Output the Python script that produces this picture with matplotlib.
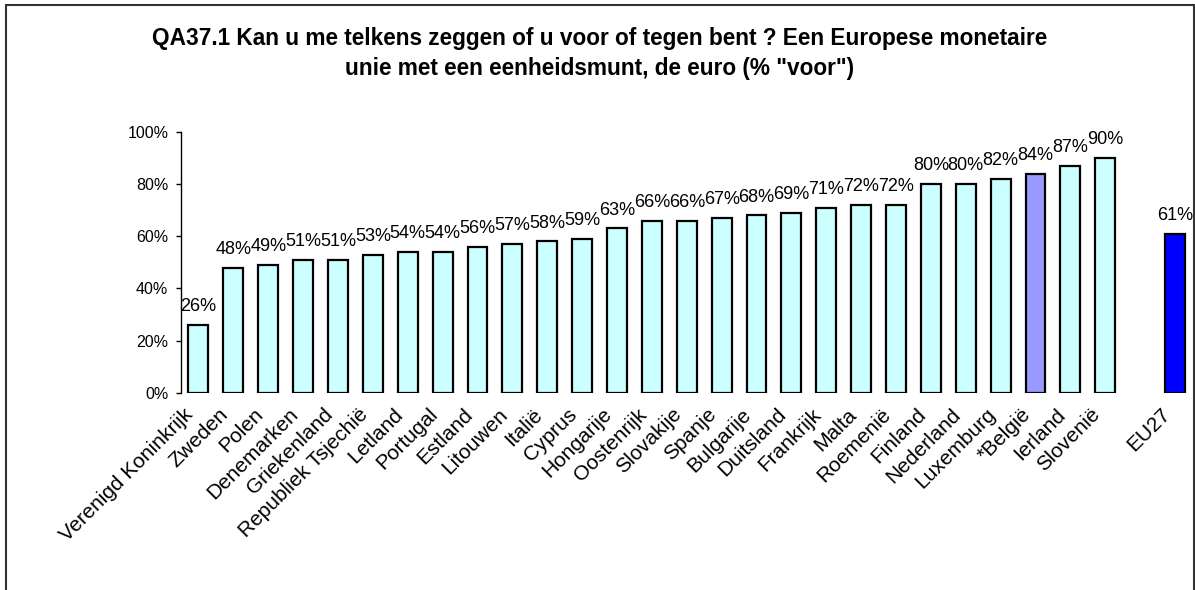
import matplotlib
matplotlib.use("Agg")
from matplotlib import pyplot as plt
from matplotlib.patches import Rectangle
from matplotlib.transforms import ScaledTranslation

plt.rcParams['font.family'] = ['Liberation Sans', 'DejaVu Sans']

countries = ["Verenigd Koninkrijk", "Zweden", "Polen", "Denemarken", "Griekenland",
             "Republiek Tsjechië", "Letland", "Portugal", "Estland", "Litouwen",
             "Italië", "Cyprus", "Hongarije", "Oostenrijk", "Slovakije", "Spanje",
             "Bulgarije", "Duitsland", "Frankrijk", "Malta", "Roemenië", "Finland",
             "Nederland", "Luxemburg", "*België", "Ierland", "Slovenië"]
country_values = [26, 48, 49, 51, 51, 53, 54, 54, 56, 57, 58, 59, 63, 66, 66, 67,
                  68, 69, 71, 72, 72, 80, 80, 82, 84, 87, 90]
eu_label = "EU27"
eu_value = 61
highlight = "*België"

title = ('QA37.1 Kan u me telkens zeggen of u voor of tegen bent ? Een Europese monetaire\n'
         'unie met een eenheidsmunt, de euro (% "voor")')

W, H = 1195, 590
fig = plt.figure(figsize=(W / 100, H / 100), dpi=100)
fig.patch.set_facecolor("white")

# axes placed in pixel terms: y axis at x=181, 0% at y=392.7, 100% at y=132
ax = fig.add_axes([181 / W, (H - 392.7) / H, 1011.5 / W, 260.7 / H])

# one empty slot between countries and EU27
xpos = list(range(len(countries))) + [len(countries) + 1]
labels = countries + [eu_label]
values = country_values + [eu_value]
colors = []
for c in labels:
    if c == eu_label:
        colors.append("#0000FF")
    elif c == highlight:
        colors.append("#9999FF")
    else:
        colors.append("#CCFFFF")

ax.bar(xpos, values, width=0.57, color=colors, edgecolor="black", linewidth=1.6, zorder=3)

for x, v in zip(xpos, values):
    ax.annotate("%d%%" % v, (x, v), xytext=(0, 10), textcoords="offset points",
                ha="center", va="baseline", fontsize=13)

ax.set_xlim(-0.5, len(xpos) + 0.5)
ax.set_ylim(0, 100)
ax.set_yticks(range(0, 101, 20))
ax.set_yticklabels(["%d%%" % t for t in range(0, 101, 20)], fontsize=11.5)
ax.tick_params(axis="y", length=3.6, width=1, pad=5.5, direction="out")

ax.set_xticks(xpos)
ax.set_xticklabels(labels, rotation=45, ha="right", va="center",
                   rotation_mode="anchor", fontsize=15)
ax.tick_params(axis="x", length=0, pad=13.5)
# labels sit a little left of the bar centres
shift = ScaledTranslation(-8 / 100, 0, fig.dpi_scale_trans)
for lbl in ax.get_xticklabels():
    lbl.set_transform(lbl.get_transform() + shift)

for side in ["top", "right", "bottom"]:
    ax.spines[side].set_visible(False)
ax.spines["left"].set_linewidth(1)

fig.text(600 / W, 1 - 53.5 / H, title, ha="center", va="center", fontsize=16.3,
         fontweight="bold", linespacing=1.4)

# outer chart frame (bottom edge falls outside the image)
frame = Rectangle((6 / W, -0.1), (1194 - 6) / W, 1.1 - 5 / H, transform=fig.transFigure,
                  fill=False, edgecolor="#333333", linewidth=1.5)
fig.patches.append(frame)

fig.savefig("out.png", dpi=100)
